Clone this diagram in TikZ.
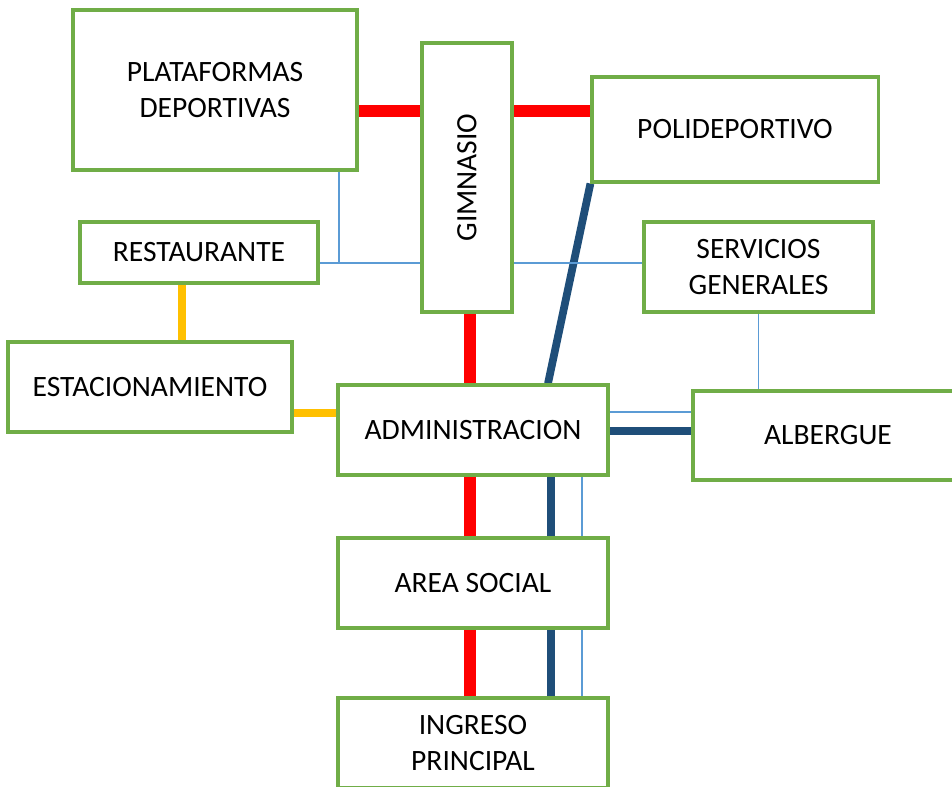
\documentclass[tikz,border=0pt]{standalone}
\usepackage{fontspec}
\setmainfont{Carlito}
\usepackage{tikz}
\usetikzlibrary{calc}
\usetikzlibrary{backgrounds}
\definecolor{boxgreen}{HTML}{70AD47}
\definecolor{linkred}{HTML}{FF0000}
\definecolor{linknavy}{HTML}{1F4E79}
\definecolor{linksky}{HTML}{5B9BD5}
\definecolor{linkgold}{HTML}{FFC000}
\tikzstyle{box} = [draw=boxgreen,line width=2.2pt,fill=white,align=center,inner sep=0pt,font=\fontsize{21}{25}\selectfont]
\tikzstyle{redlink} = [linkred,line width=8pt]
\tikzstyle{navylink} = [linknavy,line width=5.5pt]
\tikzstyle{skylink} = [linksky,line width=1pt]
\tikzstyle{goldlink} = [linkgold,line width=5pt]

\begin{document}
\begin{tikzpicture}[x=0.025cm,y=-0.025cm]
\path[use as bounding box] (0,0) rectangle (952,787);
\clip (0,0) rectangle (952,787);

\node[box,minimum width=7.1cm,minimum height=4cm] (plat) at (215,90) {PLATAFORMAS\\DEPORTIVAS};
\node[box,minimum width=2.25cm,minimum height=6.725cm] (gim) at (467,177.5) {};
\node[rotate=90,font=\fontsize{21}{25}\selectfont] (gimtext) at (gim.center) {GIMNASIO};
\node[box,minimum width=7.15cm,minimum height=2.625cm] (poli) at (735,129.5) {POLIDEPORTIVO};
\node[box,minimum width=5.95cm,minimum height=1.525cm] (rest) at (199,252.5) {RESTAURANTE};
\node[box,minimum width=5.725cm,minimum height=2.25cm] (serv) at (758.5,267) {SERVICIOS\\GENERALES};
\node[box,minimum width=7.1cm,minimum height=2.25cm] (est) at (150,387) {ESTACIONAMIENTO};
\node[box,minimum width=6.75cm,minimum height=2.25cm] (adm) at (473,430) {ADMINISTRACION};
\node[box,minimum width=6.75cm,minimum height=2.225cm] (alb) at (828,435.5) {ALBERGUE};
\node[box,minimum width=6.75cm,minimum height=2.25cm] (soc) at (473,583) {AREA SOCIAL};
\node[box,minimum width=6.75cm,minimum height=2.25cm] (ing) at (473,743) {INGRESO\\PRINCIPAL};

% rows and columns of the links
\coordinate (rowA) at (0,111);
\coordinate (rowB) at (0,263);
\coordinate (rowY) at (0,413);
\coordinate (rowT) at (0,412);
\coordinate (rowN) at (0,431);
\coordinate (colR) at (470,0);
\coordinate (colN) at (551,0);
\coordinate (colT) at (582,0);
\coordinate (colP) at (339,0);
\coordinate (colY) at (182,0);
\coordinate (slant) at (548,0);

\begin{scope}[on background layer]
% red
\draw[redlink] (plat.east |- rowA) -- (gim.west |- rowA);
\draw[redlink] (gim.east |- rowA) -- (poli.west |- rowA);
\draw[redlink] (colR |- gim.south) -- (colR |- adm.north);
\draw[redlink] (colR |- adm.south) -- (colR |- soc.north);
\draw[redlink] (colR |- soc.south) -- (colR |- ing.north);

% navy
\draw[navylink] (poli.south west) -- (slant |- adm.north);
\draw[navylink] (adm.east |- rowN) -- (alb.west |- rowN);
\draw[navylink] (colN |- adm.south) -- (colN |- soc.north);
\draw[navylink] (colN |- soc.south) -- (colN |- ing.north);

% thin
\draw[skylink] (colP |- plat.south) -- (colP |- rowB);
\draw[skylink] (rest.east |- rowB) -- (gim.west |- rowB);
\draw[skylink] (gim.east |- rowB) -- (serv.west |- rowB);
\draw[skylink] (serv.south) -- (serv.south |- alb.north);
\draw[skylink] (adm.east |- rowT) -- (alb.west |- rowT);
\draw[skylink] (colT |- adm.south) -- (colT |- soc.north);
\draw[skylink] (colT |- soc.south) -- (colT |- ing.north);

% gold
\draw[goldlink] (colY |- rest.south) -- (colY |- est.north);
\draw[goldlink] (est.east |- rowY) -- (adm.west |- rowY);
\end{scope}

\end{tikzpicture}
\end{document}
